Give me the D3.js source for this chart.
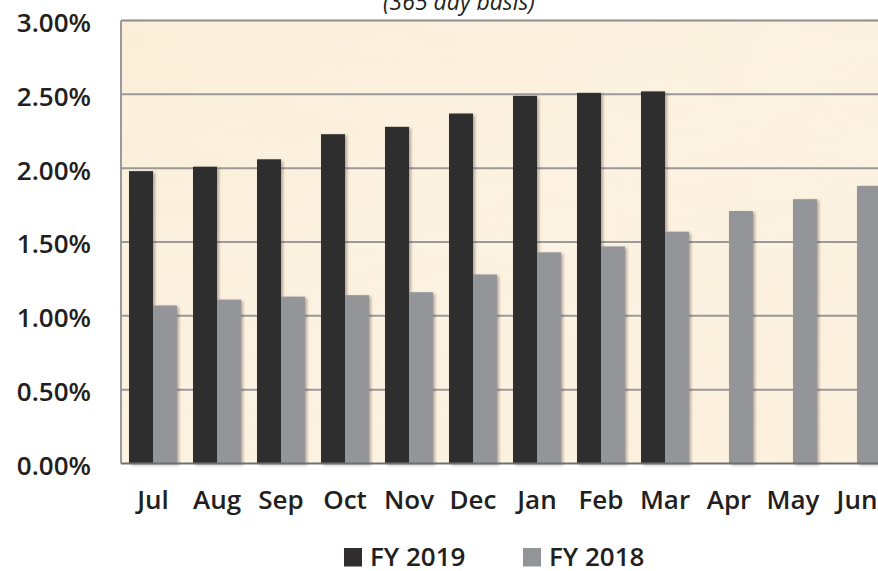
<!DOCTYPE html>
<html>
<head>
<meta charset="utf-8">
<script src="https://cdn.jsdelivr.net/npm/d3@7"></script>
<style>
  html, body { margin: 0; padding: 0; background: #ffffff; }
  svg { display: block; }
  text { font-family: "Open Sans", "Noto Sans", sans-serif; }
</style>
</head>
<body>
<svg id="chart" width="878" height="571"></svg>
<script>
const months = ["Jul","Aug","Sep","Oct","Nov","Dec","Jan","Feb","Mar","Apr","May","Jun"];
const fy2019 = [1.98, 2.01, 2.06, 2.23, 2.28, 2.37, 2.49, 2.51, 2.52, null, null, null];
const fy2018 = [1.07, 1.11, 1.13, 1.14, 1.16, 1.28, 1.43, 1.47, 1.57, 1.71, 1.79, 1.88];
const seriesNames = ["FY 2019", "FY 2018"];
const yTicks = [0, 0.5, 1.0, 1.5, 2.0, 2.5, 3.0];
const subtitle = "(365 day basis)";

const colors = { "FY 2019": "#2f2d2e", "FY 2018": "#939598" };

const svg = d3.select("#chart");
const pLeft = 121, pRight = 889, pTop = 20.5, pBottom = 463.5;
const fontSize = 26;

const defs = svg.append("defs");
const bg = defs.append("linearGradient").attr("id", "bgGrad")
  .attr("x1", "0").attr("y1", "0").attr("x2", "1").attr("y2", "1");
bg.append("stop").attr("offset", "0%").attr("stop-color", "#fbefda");
bg.append("stop").attr("offset", "50%").attr("stop-color", "#fdf3e3");
bg.append("stop").attr("offset", "100%").attr("stop-color", "#fcf1de");

const tex = defs.append("filter").attr("id", "texture")
  .attr("x", "0").attr("y", "0").attr("width", "100%").attr("height", "100%");
tex.append("feTurbulence").attr("type", "fractalNoise")
  .attr("baseFrequency", "0.012 0.05").attr("numOctaves", 3).attr("seed", 4)
  .attr("result", "noise");
tex.append("feColorMatrix").attr("in", "noise").attr("type", "matrix")
  .attr("values", "0 0 0 0 0.90  0 0 0 0 0.80  0 0 0 0 0.60  0 0 0 -0.9 0.55")
  .attr("result", "tint");
tex.append("feComposite").attr("in", "tint").attr("in2", "SourceGraphic").attr("operator", "in");

const shadow = defs.append("filter").attr("id", "shadow")
  .attr("x", "-20%").attr("y", "-5%").attr("width", "150%").attr("height", "115%");
shadow.append("feDropShadow").attr("dx", 2).attr("dy", 1.5).attr("stdDeviation", 1.6)
  .attr("flood-color", "#5a4a30").attr("flood-opacity", 0.45);

const x = d3.scaleBand().domain(months).range([pLeft, pRight])
  .paddingInner(0.25).paddingOuter(0.125);
const xs = d3.scaleBand().domain(seriesNames).range([0, x.bandwidth()]);
const y = d3.scaleLinear().domain([0, 3.0]).range([pBottom, pTop]);

// plot background
svg.append("rect").attr("x", pLeft).attr("y", pTop)
  .attr("width", pRight - pLeft).attr("height", pBottom - pTop)
  .attr("fill", "url(#bgGrad)");
svg.append("rect").attr("x", pLeft).attr("y", pTop)
  .attr("width", pRight - pLeft).attr("height", pBottom - pTop)
  .attr("fill", "#ffffff").attr("opacity", 0.3).attr("filter", "url(#texture)");

// gridlines
svg.append("g").selectAll("line").data(yTicks.filter(d => d > 0 && d < 3)).join("line")
  .attr("x1", pLeft).attr("x2", pRight)
  .attr("y1", d => y(d)).attr("y2", d => y(d))
  .attr("stroke", "#9a9a9a").attr("stroke-width", 2);

// top border
svg.append("line").attr("x1", pLeft).attr("x2", pRight)
  .attr("y1", y(3)).attr("y2", y(3))
  .attr("stroke", "#8c8c8c").attr("stroke-width", 2);

// bars
const data = [];
months.forEach((m, i) => {
  if (fy2019[i] != null) data.push({ m, s: "FY 2019", v: fy2019[i] });
  if (fy2018[i] != null) data.push({ m, s: "FY 2018", v: fy2018[i] });
});
svg.append("g").attr("filter", "url(#shadow)")
  .selectAll("rect").data(data).join("rect")
  .attr("x", d => x(d.m) + xs(d.s))
  .attr("y", d => y(d.v))
  .attr("width", xs.bandwidth())
  .attr("height", d => y(0) - y(d.v))
  .attr("fill", d => colors[d.s]);

// left axis line
svg.append("line").attr("x1", pLeft).attr("x2", pLeft)
  .attr("y1", pTop).attr("y2", pBottom)
  .attr("stroke", "#9a9a9a").attr("stroke-width", 2);
// bottom axis line
svg.append("line").attr("x1", pLeft).attr("x2", pRight)
  .attr("y1", pBottom).attr("y2", pBottom)
  .attr("stroke", "#6e6e6e").attr("stroke-width", 2);

// y axis labels
const yAxis = d3.axisLeft(y).tickValues(yTicks)
  .tickFormat(d => d.toFixed(2) + "%").tickSize(0).tickPadding(0);
const gy = svg.append("g").attr("transform", `translate(91,0)`).call(yAxis);
gy.select(".domain").remove();
gy.selectAll("text").attr("font-family", "'Open Sans', sans-serif")
  .attr("font-size", fontSize).attr("font-weight", 600).attr("fill", "#231f20")
  .attr("dy", "0.42em");

// x axis labels
const xAxis = d3.axisBottom(x).tickSize(0).tickPadding(0);
const gx = svg.append("g").attr("transform", `translate(0,490.5)`).call(xAxis);
gx.select(".domain").remove();
gx.selectAll("text").attr("font-family", "'Open Sans', sans-serif")
  .attr("font-size", fontSize).attr("font-weight", 600).attr("fill", "#231f20");

// subtitle
svg.append("text").attr("x", 459).attr("y", 10)
  .attr("text-anchor", "middle").attr("font-size", 23).attr("font-style", "italic")
  .attr("fill", "#231f20").text(subtitle);

// legend
const legendX = [344, 523];
const lg = svg.append("g").selectAll("g").data(seriesNames).join("g")
  .attr("transform", (d, i) => `translate(${legendX[i]},548)`);
lg.append("rect").attr("width", 18).attr("height", 18.5).attr("fill", d => colors[d]);
lg.append("text").attr("x", 26).attr("y", 18)
  .attr("font-size", fontSize).attr("font-weight", 600).attr("fill", "#231f20")
  .text(d => d);
</script>
</body>
</html>
